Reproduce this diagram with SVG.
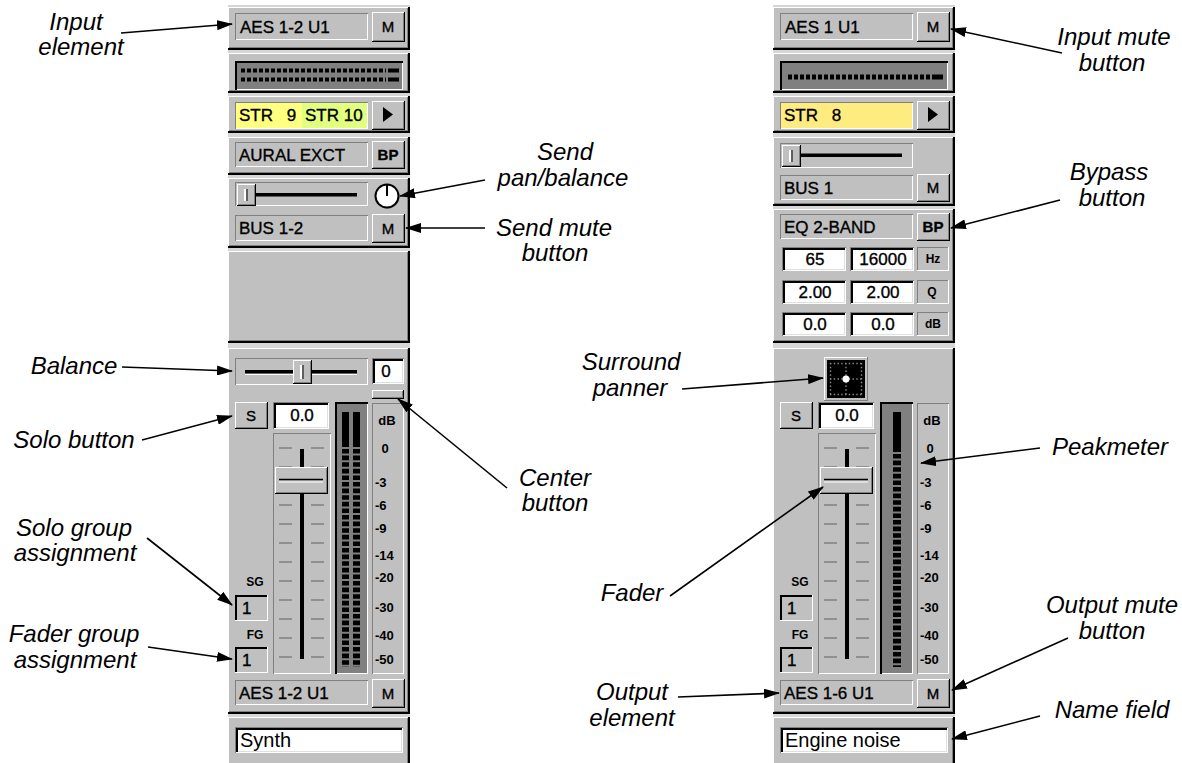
<svg xmlns="http://www.w3.org/2000/svg" width="1182" height="763" viewBox="0 0 1182 763">
<style>
.k{fill:#000}.w{fill:#fff}.g{fill:#808080}.f{fill:#c0c0c0}.lt{fill:#dfdfdf}
.ui{font-family:"Liberation Sans",Arial,sans-serif;font-size:17px;fill:#000;stroke:#000;stroke-width:0.35}
.uc{font-family:"Liberation Sans",Arial,sans-serif;font-size:17px;fill:#000;stroke:#000;stroke-width:0.35;text-anchor:middle}
.btn{font-family:"Liberation Sans",Arial,sans-serif;font-size:15px;fill:#000;stroke:#000;stroke-width:0.35;text-anchor:middle}
.sc{font-family:"Liberation Sans",Arial,sans-serif;font-size:13px;font-weight:bold;fill:#000}
.scm{font-family:"Liberation Sans",Arial,sans-serif;font-size:12px;font-weight:bold;fill:#000;text-anchor:middle}
.nm{font-family:"Liberation Sans",Arial,sans-serif;font-size:20px;fill:#000}
.lbl{font-family:"Liberation Sans",Arial,sans-serif;font-size:24px;font-style:italic;fill:#000;text-anchor:middle}
.arr{stroke:#000;stroke-width:1.6;fill:none;marker-end:url(#ah)}
.tick{stroke:#808080;stroke-width:1.4;fill:none}
.led{stroke:#000;fill:none}
.dots{stroke:#8a8a8a;stroke-width:1.4;stroke-dasharray:1.4 2.35;fill:none}
</style>
<defs>
<marker id="ah" markerWidth="16" markerHeight="10" refX="15" refY="5" orient="auto" markerUnits="userSpaceOnUse">
<path d="M0,0 L16,5 L0,10 z" fill="#000"/>
</marker>
</defs>
<rect width="1182" height="763" fill="#fff"/>

<!-- LEFT STRIP -->
<g id="strip-left">
<rect x="228" y="5" width="182" height="758" fill="#d6d6d6"/>
<g id="L-sections">
<rect class="k" x="228" y="7" width="182" height="43"/><rect class="w" x="228" y="7" width="180" height="41"/><rect class="g" x="229" y="8" width="179" height="40"/><rect class="f" x="229" y="8" width="178" height="39"/>
<rect class="k" x="228" y="53" width="182" height="40"/><rect class="w" x="228" y="53" width="180" height="38"/><rect class="g" x="229" y="54" width="179" height="37"/><rect class="f" x="229" y="54" width="178" height="36"/>
<rect class="k" x="228" y="96" width="182" height="37"/><rect class="w" x="228" y="96" width="180" height="35"/><rect class="g" x="229" y="97" width="179" height="34"/><rect class="f" x="229" y="97" width="178" height="33"/>
<rect class="k" x="228" y="137" width="182" height="38"/><rect class="w" x="228" y="137" width="180" height="36"/><rect class="g" x="229" y="138" width="179" height="35"/><rect class="f" x="229" y="138" width="178" height="34"/>
<rect class="k" x="228" y="178" width="182" height="70"/><rect class="w" x="228" y="178" width="180" height="68"/><rect class="g" x="229" y="179" width="179" height="67"/><rect class="f" x="229" y="179" width="178" height="66"/>
<rect class="k" x="228" y="251" width="182" height="92"/><rect class="w" x="228" y="251" width="180" height="90"/><rect class="g" x="229" y="252" width="179" height="89"/><rect class="f" x="229" y="252" width="178" height="88"/>
<rect class="k" x="228" y="348" width="182" height="366"/><rect class="w" x="228" y="348" width="180" height="364"/><rect class="g" x="229" y="349" width="179" height="363"/><rect class="f" x="229" y="349" width="178" height="362"/>
<rect class="k" x="228" y="717" width="182" height="50"/><rect class="w" x="228" y="717" width="180" height="48"/><rect class="g" x="229" y="718" width="179" height="47"/><rect class="f" x="229" y="718" width="178" height="46"/>
</g>
<g id="L-input">
<rect class="g" x="235" y="13" width="133" height="27"/><rect class="w" x="236" y="14" width="132" height="26"/><rect class="f" x="236" y="14" width="131" height="25"/>
<text class="ui" x="240" y="33">AES 1-2 U1</text>
<rect class="k" x="372" y="12" width="33" height="30"/><rect class="w" x="372" y="12" width="32" height="29"/><rect class="g" x="373" y="13" width="31" height="28"/><rect class="f" x="373" y="13" width="30" height="27"/>
<text class="btn" x="388" y="32">M</text>
</g>
<g id="L-meter">
<rect class="k" x="235" y="61" width="168" height="29"/><rect class="w" x="237" y="63" width="166" height="27"/><rect class="g" x="237" y="63" width="165" height="26"/>
<line class="led" x1="241" y1="70.5" x2="386" y2="70.5" stroke-width="4" stroke-dasharray="4 2"/>
<line class="led" x1="241" y1="79.5" x2="386" y2="79.5" stroke-width="4" stroke-dasharray="4 2"/>
<rect class="k" x="388" y="68.5" width="11" height="4"/><rect class="k" x="388" y="77.5" width="11" height="4"/>
</g>
<g id="L-str">
<rect class="g" x="235" y="102" width="133" height="27"/><rect class="w" x="236" y="103" width="132" height="26"/>
<rect x="236" y="103" width="66" height="25" fill="#ffff80"/><rect x="302" y="103" width="65" height="25" fill="#e2ff80"/>
<text class="ui" x="239" y="121" word-spacing="9">STR 9</text>
<text class="ui" x="305" y="121">STR 10</text>
<rect class="k" x="372" y="101" width="33" height="29"/><rect class="w" x="372" y="101" width="32" height="28"/><rect class="g" x="373" y="102" width="31" height="27"/><rect class="f" x="373" y="102" width="30" height="26"/>
<path d="M383,107 L393,114.5 L383,122 z" fill="#000"/>
</g>
<g id="L-insert">
<rect class="g" x="235" y="142" width="133" height="25"/><rect class="w" x="236" y="143" width="132" height="24"/><rect class="f" x="236" y="143" width="131" height="23"/>
<text class="ui" x="239" y="161">AURAL EXCT</text>
<rect class="k" x="372" y="141" width="33" height="28"/><rect class="w" x="372" y="141" width="32" height="27"/><rect class="g" x="373" y="142" width="31" height="26"/><rect class="f" x="373" y="142" width="30" height="25"/>
<text class="btn" x="388" y="160" font-weight="bold" font-size="14">BP</text>
</g>
<g id="L-send">
<rect class="g" x="235" y="182" width="133" height="24"/><rect class="w" x="236" y="183" width="132" height="23"/><rect class="f" x="236" y="183" width="131" height="22"/>
<rect class="k" x="255" y="193" width="102" height="3.5"/>
<rect class="k" x="237" y="184" width="19" height="22"/><rect class="w" x="237" y="184" width="18" height="21"/><rect class="g" x="238" y="185" width="17" height="20"/><rect class="f" x="238" y="185" width="16" height="19"/>
<line x1="245" y1="189" x2="245" y2="201" stroke="#fff" stroke-width="2"/><line x1="247" y1="189" x2="247" y2="201" stroke="#404040" stroke-width="1.5"/>
<circle cx="388" cy="197" r="11.5" fill="#909090"/>
<circle cx="387" cy="196" r="11.5" fill="#fff" stroke="#000" stroke-width="2"/>
<line x1="387" y1="185" x2="387" y2="196" stroke="#000" stroke-width="2"/>
<rect class="g" x="235" y="215" width="133" height="26"/><rect class="w" x="236" y="216" width="132" height="25"/><rect class="f" x="236" y="216" width="131" height="24"/>
<text class="ui" x="239" y="234">BUS 1-2</text>
<rect class="k" x="372" y="214" width="33" height="29"/><rect class="w" x="372" y="214" width="32" height="28"/><rect class="g" x="373" y="215" width="31" height="27"/><rect class="f" x="373" y="215" width="30" height="26"/>
<text class="btn" x="388" y="234">M</text>
</g>
<g id="L-main">
<rect class="g" x="235" y="358" width="133" height="27"/><rect class="w" x="236" y="359" width="132" height="26"/><rect class="f" x="236" y="359" width="131" height="25"/>
<rect class="k" x="245" y="370" width="112" height="3.5"/><line x1="245" y1="374.5" x2="357" y2="374.5" stroke="#fff" stroke-width="1"/>
<rect class="k" x="293" y="360" width="19" height="24"/><rect class="w" x="293" y="360" width="18" height="23"/><rect class="g" x="294" y="361" width="17" height="22"/><rect class="f" x="294" y="361" width="16" height="21"/>
<line x1="301" y1="365" x2="301" y2="379" stroke="#fff" stroke-width="2"/><line x1="303" y1="365" x2="303" y2="379" stroke="#404040" stroke-width="1.5"/>
<rect class="g" x="372" y="358" width="32" height="26"/><rect class="w" x="373" y="359" width="31" height="25"/><rect class="k" x="373" y="359" width="30" height="24"/><rect class="lt" x="375" y="361" width="28" height="22"/><rect class="w" x="375" y="361" width="27" height="21"/>
<text class="uc" x="386" y="377" font-size="15">0</text>
<rect class="k" x="372" y="390" width="32" height="9"/><rect class="w" x="372" y="390" width="31" height="8"/><rect class="g" x="373" y="391" width="30" height="7"/><rect class="f" x="373" y="391" width="29" height="6"/>
<rect class="k" x="235" y="402" width="33" height="27"/><rect class="w" x="235" y="402" width="32" height="26"/><rect class="g" x="236" y="403" width="31" height="25"/><rect class="f" x="236" y="403" width="30" height="24"/>
<text class="btn" x="251" y="421">S</text>
<rect class="g" x="273" y="402" width="56" height="27"/><rect class="w" x="274" y="403" width="55" height="26"/><rect class="k" x="274" y="403" width="54" height="25"/><rect class="lt" x="276" y="405" width="52" height="23"/><rect class="w" x="276" y="405" width="51" height="22"/>
<text class="uc" x="302" y="421">0.0</text>
<rect class="g" x="273" y="433" width="58" height="241"/><rect class="w" x="274" y="434" width="57" height="240"/><rect class="f" x="274" y="434" width="56" height="239"/>
<path class="tick" d="M279,448H292M311,448H324M279,467H292M311,467H324M279,486H292M311,486H324M279,505H292M311,505H324M279,524H292M311,524H324M279,543H292M311,543H324M279,562H292M311,562H324M279,581H292M311,581H324M279,600H292M311,600H324M279,619H292M311,619H324M279,638H292M311,638H324M279,657H292M311,657H324"/>
<rect class="k" x="300" y="449" width="4" height="210"/>
<rect class="k" x="275" y="467" width="53" height="27"/><rect class="w" x="275" y="467" width="52" height="26"/><rect class="g" x="276" y="468" width="51" height="25"/><rect class="f" x="276" y="468" width="50" height="24"/>
<line x1="279" y1="479.5" x2="323" y2="479.5" stroke="#000" stroke-width="1.6"/><line x1="279" y1="482" x2="323" y2="482" stroke="#fff" stroke-width="1"/>
<rect class="k" x="335" y="402" width="33" height="272"/><rect class="w" x="337" y="404" width="31" height="270"/><rect class="g" x="337" y="404" width="30" height="269"/>
<line class="led" x1="345.5" y1="412" x2="345.5" y2="447" stroke-width="7"/>
<line class="led" x1="356.5" y1="412" x2="356.5" y2="447" stroke-width="7"/>
<line class="led" x1="345.5" y1="449" x2="345.5" y2="667" stroke-width="7" stroke-dasharray="4.6 2"/>
<line class="led" x1="356.5" y1="449" x2="356.5" y2="667" stroke-width="7" stroke-dasharray="4.6 2"/>
<rect class="g" x="372" y="403" width="32" height="271"/><rect class="w" x="373" y="404" width="31" height="270"/><rect class="f" x="373" y="404" width="30" height="269"/>
<text class="sc" x="387" y="424.5" text-anchor="middle">dB</text>
<text class="sc" x="385" y="452.5" text-anchor="middle">0</text>
<text class="sc" x="375" y="486.5">-3</text>
<text class="sc" x="375" y="509.5">-6</text>
<text class="sc" x="375" y="532.5">-9</text>
<text class="sc" x="375" y="559.5">-14</text>
<text class="sc" x="375" y="581.5">-20</text>
<text class="sc" x="375" y="611.5">-30</text>
<text class="sc" x="375" y="639.5">-40</text>
<text class="sc" x="375" y="663.5">-50</text>
<text class="scm" x="255" y="586">SG</text>
<rect class="w" x="235" y="595" width="33" height="26"/><rect class="k" x="235" y="595" width="32" height="25"/><rect class="f" x="237" y="597" width="30" height="23"/>
<text class="ui" x="242" y="614" font-size="15">1</text>
<text class="scm" x="255" y="639">FG</text>
<rect class="w" x="235" y="647" width="33" height="26"/><rect class="k" x="235" y="647" width="32" height="25"/><rect class="f" x="237" y="649" width="30" height="23"/>
<text class="ui" x="242" y="666" font-size="15">1</text>
<rect class="g" x="235" y="680" width="133" height="25"/><rect class="w" x="236" y="681" width="132" height="24"/><rect class="f" x="236" y="681" width="131" height="23"/>
<text class="ui" x="239" y="699">AES 1-2 U1</text>
<rect class="k" x="372" y="679" width="33" height="29"/><rect class="w" x="372" y="679" width="32" height="28"/><rect class="g" x="373" y="680" width="31" height="27"/><rect class="f" x="373" y="680" width="30" height="26"/>
<text class="btn" x="388" y="699">M</text>
</g>
<g id="L-name">
<rect class="g" x="235" y="727" width="168" height="26"/><rect class="w" x="236" y="728" width="167" height="25"/><rect class="k" x="236" y="728" width="166" height="24"/><rect class="lt" x="238" y="730" width="164" height="22"/><rect class="w" x="238" y="730" width="163" height="21"/>
<text class="nm" x="240" y="747">Synth</text>
</g>
</g>

<!-- RIGHT STRIP -->
<g id="strip-right">
<rect x="773" y="5" width="182" height="758" fill="#d6d6d6"/>
<g id="R-sections">
<rect class="k" x="773" y="7" width="182" height="43"/><rect class="w" x="773" y="7" width="180" height="41"/><rect class="g" x="774" y="8" width="179" height="40"/><rect class="f" x="774" y="8" width="178" height="39"/>
<rect class="k" x="773" y="53" width="182" height="40"/><rect class="w" x="773" y="53" width="180" height="38"/><rect class="g" x="774" y="54" width="179" height="37"/><rect class="f" x="774" y="54" width="178" height="36"/>
<rect class="k" x="773" y="96" width="182" height="37"/><rect class="w" x="773" y="96" width="180" height="35"/><rect class="g" x="774" y="97" width="179" height="34"/><rect class="f" x="774" y="97" width="178" height="33"/>
<rect class="k" x="773" y="137" width="182" height="69"/><rect class="w" x="773" y="137" width="180" height="67"/><rect class="g" x="774" y="138" width="179" height="66"/><rect class="f" x="774" y="138" width="178" height="65"/>
<rect class="k" x="773" y="209" width="182" height="134"/><rect class="w" x="773" y="209" width="180" height="132"/><rect class="g" x="774" y="210" width="179" height="131"/><rect class="f" x="774" y="210" width="178" height="130"/>
<rect class="k" x="773" y="348" width="182" height="366"/><rect class="w" x="773" y="348" width="180" height="364"/><rect class="g" x="774" y="349" width="179" height="363"/><rect class="f" x="774" y="349" width="178" height="362"/>
<rect class="k" x="773" y="717" width="182" height="50"/><rect class="w" x="773" y="717" width="180" height="48"/><rect class="g" x="774" y="718" width="179" height="47"/><rect class="f" x="774" y="718" width="178" height="46"/>
</g>
<g id="R-input">
<rect class="g" x="780" y="13" width="133" height="27"/><rect class="w" x="781" y="14" width="132" height="26"/><rect class="f" x="781" y="14" width="131" height="25"/>
<text class="ui" x="785" y="33">AES 1 U1</text>
<rect class="k" x="917" y="12" width="33" height="30"/><rect class="w" x="917" y="12" width="32" height="29"/><rect class="g" x="918" y="13" width="31" height="28"/><rect class="f" x="918" y="13" width="30" height="27"/>
<text class="btn" x="933" y="32">M</text>
</g>
<g id="R-meter">
<rect class="k" x="780" y="61" width="168" height="29"/><rect class="w" x="782" y="63" width="166" height="27"/><rect class="g" x="782" y="63" width="165" height="26"/>
<line class="led" x1="788" y1="77" x2="930" y2="77" stroke-width="5" stroke-dasharray="4 2"/>
<rect class="k" x="932" y="74.5" width="11" height="5"/>
</g>
<g id="R-str">
<rect class="g" x="780" y="102" width="133" height="27"/><rect class="w" x="781" y="103" width="132" height="26"/>
<rect x="781" y="103" width="131" height="25" fill="#ffec80"/>
<text class="ui" x="784" y="121" word-spacing="9">STR 8</text>
<rect class="k" x="917" y="101" width="33" height="29"/><rect class="w" x="917" y="101" width="32" height="28"/><rect class="g" x="918" y="102" width="31" height="27"/><rect class="f" x="918" y="102" width="30" height="26"/>
<path d="M928,107 L938,114.5 L928,122 z" fill="#000"/>
</g>
<g id="R-send">
<rect class="g" x="780" y="143" width="133" height="25"/><rect class="w" x="781" y="144" width="132" height="24"/><rect class="f" x="781" y="144" width="131" height="23"/>
<rect class="k" x="800" y="153.5" width="102" height="3.5"/>
<rect class="k" x="782" y="145" width="19" height="22"/><rect class="w" x="782" y="145" width="18" height="21"/><rect class="g" x="783" y="146" width="17" height="20"/><rect class="f" x="783" y="146" width="16" height="19"/>
<line x1="790" y1="150" x2="790" y2="162" stroke="#fff" stroke-width="2"/><line x1="792" y1="150" x2="792" y2="162" stroke="#404040" stroke-width="1.5"/>
<rect class="g" x="780" y="175" width="133" height="25"/><rect class="w" x="781" y="176" width="132" height="24"/><rect class="f" x="781" y="176" width="131" height="23"/>
<text class="ui" x="784" y="194">BUS 1</text>
<rect class="k" x="917" y="174" width="33" height="28"/><rect class="w" x="917" y="174" width="32" height="27"/><rect class="g" x="918" y="175" width="31" height="26"/><rect class="f" x="918" y="175" width="30" height="25"/>
<text class="btn" x="933" y="193">M</text>
</g>
<g id="R-eq">
<rect class="g" x="780" y="214" width="133" height="25"/><rect class="w" x="781" y="215" width="132" height="24"/><rect class="f" x="781" y="215" width="131" height="23"/>
<text class="ui" x="784" y="233">EQ 2-BAND</text>
<rect class="k" x="917" y="213" width="33" height="28"/><rect class="w" x="917" y="213" width="32" height="27"/><rect class="g" x="918" y="214" width="31" height="26"/><rect class="f" x="918" y="214" width="30" height="25"/>
<text class="btn" x="933" y="232" font-weight="bold" font-size="14">BP</text>
<rect class="g" x="782" y="247" width="64" height="24"/><rect class="w" x="783" y="248" width="63" height="23"/><rect class="k" x="783" y="248" width="62" height="22"/><rect class="lt" x="785" y="250" width="60" height="20"/><rect class="w" x="785" y="250" width="59" height="19"/>
<text class="uc" x="815" y="265">65</text>
<rect class="g" x="850" y="247" width="64" height="24"/><rect class="w" x="851" y="248" width="63" height="23"/><rect class="k" x="851" y="248" width="62" height="22"/><rect class="lt" x="853" y="250" width="60" height="20"/><rect class="w" x="853" y="250" width="59" height="19"/>
<text class="uc" x="883" y="265">16000</text>
<rect class="w" x="917" y="247" width="32" height="24"/><rect class="g" x="917" y="247" width="31" height="23"/><rect class="f" x="918" y="248" width="30" height="22"/>
<text class="scm" x="933" y="263" font-size="11">Hz</text>
<rect class="g" x="782" y="280" width="64" height="24"/><rect class="w" x="783" y="281" width="63" height="23"/><rect class="k" x="783" y="281" width="62" height="22"/><rect class="lt" x="785" y="283" width="60" height="20"/><rect class="w" x="785" y="283" width="59" height="19"/>
<text class="uc" x="815" y="298">2.00</text>
<rect class="g" x="850" y="280" width="64" height="24"/><rect class="w" x="851" y="281" width="63" height="23"/><rect class="k" x="851" y="281" width="62" height="22"/><rect class="lt" x="853" y="283" width="60" height="20"/><rect class="w" x="853" y="283" width="59" height="19"/>
<text class="uc" x="883" y="298">2.00</text>
<rect class="w" x="917" y="280" width="32" height="24"/><rect class="g" x="917" y="280" width="31" height="23"/><rect class="f" x="918" y="281" width="30" height="22"/>
<text class="scm" x="932" y="296" font-size="11">Q</text>
<rect class="g" x="782" y="312" width="64" height="24"/><rect class="w" x="783" y="313" width="63" height="23"/><rect class="k" x="783" y="313" width="62" height="22"/><rect class="lt" x="785" y="315" width="60" height="20"/><rect class="w" x="785" y="315" width="59" height="19"/>
<text class="uc" x="815" y="330">0.0</text>
<rect class="g" x="850" y="312" width="64" height="24"/><rect class="w" x="851" y="313" width="63" height="23"/><rect class="k" x="851" y="313" width="62" height="22"/><rect class="lt" x="853" y="315" width="60" height="20"/><rect class="w" x="853" y="315" width="59" height="19"/>
<text class="uc" x="883" y="330">0.0</text>
<rect class="w" x="917" y="312" width="32" height="24"/><rect class="g" x="917" y="312" width="31" height="23"/><rect class="f" x="918" y="313" width="30" height="22"/>
<text class="scm" x="933" y="328" font-size="11">dB</text>
</g>
<g id="R-main">
<rect class="g" x="824" y="357" width="44" height="44"/><rect class="w" x="824" y="357" width="43" height="43"/><rect class="f" x="825" y="358" width="42" height="42"/>
<rect class="k" x="827" y="360" width="38" height="38"/>
<path class="dots" d="M830,363.5H863M830,394.5H863M830,379H863M830.5,363V396M861.5,363V396M846,363V396"/>
<circle cx="846" cy="379" r="3.5" fill="#fff"/>
<rect class="k" x="780" y="402" width="33" height="27"/><rect class="w" x="780" y="402" width="32" height="26"/><rect class="g" x="781" y="403" width="31" height="25"/><rect class="f" x="781" y="403" width="30" height="24"/>
<text class="btn" x="796" y="421">S</text>
<rect class="g" x="818" y="402" width="56" height="27"/><rect class="w" x="819" y="403" width="55" height="26"/><rect class="k" x="819" y="403" width="54" height="25"/><rect class="lt" x="821" y="405" width="52" height="23"/><rect class="w" x="821" y="405" width="51" height="22"/>
<text class="uc" x="847" y="421">0.0</text>
<rect class="g" x="818" y="433" width="58" height="241"/><rect class="w" x="819" y="434" width="57" height="240"/><rect class="f" x="819" y="434" width="56" height="239"/>
<path class="tick" d="M824,448H837M856,448H869M824,467H837M856,467H869M824,486H837M856,486H869M824,505H837M856,505H869M824,524H837M856,524H869M824,543H837M856,543H869M824,562H837M856,562H869M824,581H837M856,581H869M824,600H837M856,600H869M824,619H837M856,619H869M824,638H837M856,638H869M824,657H837M856,657H869"/>
<rect class="k" x="845" y="449" width="4" height="210"/>
<rect class="k" x="820" y="467" width="53" height="27"/><rect class="w" x="820" y="467" width="52" height="26"/><rect class="g" x="821" y="468" width="51" height="25"/><rect class="f" x="821" y="468" width="50" height="24"/>
<line x1="824" y1="479.5" x2="868" y2="479.5" stroke="#000" stroke-width="1.6"/><line x1="824" y1="482" x2="868" y2="482" stroke="#fff" stroke-width="1"/>
<rect class="k" x="880" y="402" width="33" height="272"/><rect class="w" x="882" y="404" width="31" height="270"/><rect class="g" x="882" y="404" width="30" height="269"/>
<line class="led" x1="897" y1="412" x2="897" y2="452" stroke-width="8"/>
<line class="led" x1="897" y1="454" x2="897" y2="667" stroke-width="8" stroke-dasharray="4.6 2"/>
<rect class="g" x="917" y="403" width="32" height="271"/><rect class="w" x="918" y="404" width="31" height="270"/><rect class="f" x="918" y="404" width="30" height="269"/>
<text class="sc" x="932" y="424.5" text-anchor="middle">dB</text>
<text class="sc" x="930" y="452.5" text-anchor="middle">0</text>
<text class="sc" x="920" y="486.5">-3</text>
<text class="sc" x="920" y="509.5">-6</text>
<text class="sc" x="920" y="532.5">-9</text>
<text class="sc" x="920" y="559.5">-14</text>
<text class="sc" x="920" y="581.5">-20</text>
<text class="sc" x="920" y="611.5">-30</text>
<text class="sc" x="920" y="639.5">-40</text>
<text class="sc" x="920" y="663.5">-50</text>
<text class="scm" x="800" y="586">SG</text>
<rect class="w" x="780" y="595" width="33" height="26"/><rect class="k" x="780" y="595" width="32" height="25"/><rect class="f" x="782" y="597" width="30" height="23"/>
<text class="ui" x="787" y="614" font-size="15">1</text>
<text class="scm" x="800" y="639">FG</text>
<rect class="w" x="780" y="647" width="33" height="26"/><rect class="k" x="780" y="647" width="32" height="25"/><rect class="f" x="782" y="649" width="30" height="23"/>
<text class="ui" x="787" y="666" font-size="15">1</text>
<rect class="g" x="780" y="680" width="133" height="25"/><rect class="w" x="781" y="681" width="132" height="24"/><rect class="f" x="781" y="681" width="131" height="23"/>
<text class="ui" x="784" y="699">AES 1-6 U1</text>
<rect class="k" x="917" y="679" width="33" height="29"/><rect class="w" x="917" y="679" width="32" height="28"/><rect class="g" x="918" y="680" width="31" height="27"/><rect class="f" x="918" y="680" width="30" height="26"/>
<text class="btn" x="933" y="699">M</text>
</g>
<g id="R-name">
<rect class="g" x="780" y="727" width="168" height="26"/><rect class="w" x="781" y="728" width="167" height="25"/><rect class="k" x="781" y="728" width="166" height="24"/><rect class="lt" x="783" y="730" width="164" height="22"/><rect class="w" x="783" y="730" width="163" height="21"/>
<text class="nm" x="785" y="747">Engine noise</text>
</g>
</g>

<!-- LABELS -->
<g id="labels">
<g id="lbl-input-element"><text class="lbl" x="76" y="30">Input</text><text class="lbl" x="81" y="55">element</text></g>
<g id="lbl-balance"><text class="lbl" x="74" y="374">Balance</text></g>
<g id="lbl-solo-button"><text class="lbl" x="74" y="448">Solo button</text></g>
<g id="lbl-solo-group"><text class="lbl" x="74" y="536">Solo group</text><text class="lbl" x="75" y="561">assignment</text></g>
<g id="lbl-fader-group"><text class="lbl" x="74" y="642">Fader group</text><text class="lbl" x="75" y="668">assignment</text></g>
<g id="lbl-send-pan"><text class="lbl" x="565" y="160">Send</text><text class="lbl" x="563" y="186">pan/balance</text></g>
<g id="lbl-send-mute"><text class="lbl" x="554" y="236">Send mute</text><text class="lbl" x="555" y="261">button</text></g>
<g id="lbl-center"><text class="lbl" x="555" y="486">Center</text><text class="lbl" x="555" y="511">button</text></g>
<g id="lbl-surround"><text class="lbl" x="631" y="370">Surround</text><text class="lbl" x="630" y="396">panner</text></g>
<g id="lbl-fader"><text class="lbl" x="632" y="601">Fader</text></g>
<g id="lbl-output-element"><text class="lbl" x="632" y="700">Output</text><text class="lbl" x="632" y="726">element</text></g>
<g id="lbl-input-mute"><text class="lbl" x="1114" y="45">Input mute</text><text class="lbl" x="1112" y="71">button</text></g>
<g id="lbl-bypass"><text class="lbl" x="1109" y="180">Bypass</text><text class="lbl" x="1112" y="206">button</text></g>
<g id="lbl-peakmeter"><text class="lbl" x="1110" y="455">Peakmeter</text></g>
<g id="lbl-output-mute"><text class="lbl" x="1112" y="613">Output mute</text><text class="lbl" x="1112" y="639">button</text></g>
<g id="lbl-name-field"><text class="lbl" x="1112" y="718">Name field</text></g>
</g>

<!-- CONNECTORS -->
<g id="connectors">
<path class="arr" d="M121,33 L232,24"/>
<path class="arr" d="M122,367 L232,371"/>
<path class="arr" d="M142,440 L232,416"/>
<path class="arr" d="M147,538 L232,605"/>
<path class="arr" d="M148,647 L232,659"/>
<path class="arr" d="M485,180 L400,196"/>
<path class="arr" d="M485,228 L406,228"/>
<path class="arr" d="M507,488 L398,399"/>
<path class="arr" d="M682,389 L823,378"/>
<path class="arr" d="M670,596 L823,487"/>
<path class="arr" d="M678,697 L779,693"/>
<path class="arr" d="M1062,53 L951,29"/>
<path class="arr" d="M1060,200 L951,228"/>
<path class="arr" d="M1040,448 L921,463"/>
<path class="arr" d="M1068,638 L952,690"/>
<path class="arr" d="M1040,716 L952,739"/>
</g>
</svg>
